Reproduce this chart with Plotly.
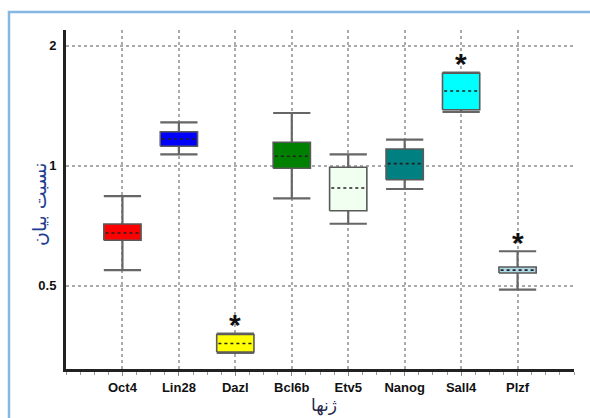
import math
import plotly.graph_objects as go

# ---------------- data ----------------
genes = ["Oct4", "Lin28", "Dazl", "Bcl6b", "Etv5", "Nanog", "Sall4", "Plzf"]
lower_whisker = [0.547, 1.068, 0.339, 0.828, 0.715, 0.874, 1.364, 0.489]
q1_values = [0.650, 1.119, 0.341, 0.985, 0.771, 0.922, 1.382, 0.538]
median_values = [0.678, 1.167, 0.358, 1.056, 0.879, 1.012, 1.539, 0.547]
q3_values = [0.714, 1.217, 0.377, 1.145, 0.991, 1.101, 1.706, 0.557]
upper_whisker = [0.839, 1.285, 0.379, 1.356, 1.068, 1.162, 1.712, 0.610]
significant = [False, False, True, False, False, False, True, True]
box_colors = ["#FF0000", "#0000FF", "#FFFF00", "#008000", "#F0FFF0", "#008080", "#00FFFF", "#ADD8E6"]
y_tick_vals = [0.5, 1, 2]
y_tick_text = ["0.5", "1", "2"]
y_title = "نسبت بیان"
x_title = "ژنها"

# ---------------- style ----------------
BOX_W = 0.66
OUTLINE = "#5a5a5a"
WHISKER = "#666666"

fig = go.Figure()

# whiskers and caps
wx, wy = [], []
for i in range(len(genes)):
    h = BOX_W / 2
    wx += [i, i, None, i, i, None, i - h, i + h, None, i - h, i + h, None]
    wy += [q3_values[i], upper_whisker[i], None, q1_values[i], lower_whisker[i], None,
           upper_whisker[i], upper_whisker[i], None, lower_whisker[i], lower_whisker[i], None]
fig.add_trace(go.Scatter(x=wx, y=wy, mode="lines", line=dict(color=WHISKER, width=2.2),
                         hoverinfo="skip", showlegend=False))

# boxes
for i, g in enumerate(genes):
    h = BOX_W / 2
    fig.add_trace(go.Scatter(
        x=[i - h, i + h, i + h, i - h, i - h],
        y=[q1_values[i], q1_values[i], q3_values[i], q3_values[i], q1_values[i]],
        mode="lines", fill="toself", fillcolor=box_colors[i],
        line=dict(color=OUTLINE, width=1.6), name=g, showlegend=False, hoverinfo="skip"))

# medians (dotted)
mx, my = [], []
for i in range(len(genes)):
    h = BOX_W / 2 - 0.03
    mx += [i - h, i + h, None]
    my += [median_values[i], median_values[i], None]
fig.add_trace(go.Scatter(x=mx, y=my, mode="lines", line=dict(color="#222222", width=1.6, dash="dot"),
                         hoverinfo="skip", showlegend=False))

# significance asterisks
annotations = []
for i in range(len(genes)):
    if significant[i]:
        annotations.append(dict(text="<b>*</b>", x=i, y=math.log10(upper_whisker[i]), xref="x", yref="y",
                                showarrow=False, xanchor="center", yanchor="middle", yshift=9,
                                font=dict(size=30, color="#111111", family="Liberation Sans")))

annotations += [
    dict(text=y_title, xref="paper", yref="paper", x=(39 - 66) / 508, y=(369 - 205) / 339,
         textangle=-90, showarrow=False, xanchor="center", yanchor="middle",
         font=dict(family="DejaVu Sans", size=19, color="#1F3C8F")),
    dict(text=x_title, xref="paper", yref="paper", x=(324 - 66) / 508, y=(369 - 405) / 339,
         showarrow=False, xanchor="center", yanchor="middle",
         font=dict(family="DejaVu Sans", size=17, color="#26264d")),
]

fig.update_layout(
    width=590, height=418,
    margin=dict(l=66, r=16, t=30, b=49),
    paper_bgcolor="white", plot_bgcolor="white",
    font=dict(family="Liberation Sans, Arial", color="#111111"),
    xaxis=dict(
        range=[-1, 8], tickmode="array", tickvals=list(range(len(genes))), ticktext=genes,
        showgrid=True, gridcolor="#aaaaaa", griddash="dot", gridwidth=1.5,
        zeroline=False, showline=True, linecolor="#222222", linewidth=3,
        ticks="outside", ticklen=4, tickcolor="#888888", tickwidth=1,
        tickfont=dict(size=13, weight="bold", color="#111111"),
        minor=dict(dtick=0.25, tick0=0, ticks="outside", ticklen=3, tickcolor="#999999", showgrid=False),
    ),
    yaxis=dict(
        type="log", range=[math.log10(0.309), math.log10(2.19)],
        tickmode="array", tickvals=y_tick_vals, ticktext=y_tick_text,
        showgrid=True, gridcolor="#aaaaaa", griddash="dot", gridwidth=1.5,
        zeroline=False, showline=True, linecolor="#222222", linewidth=3,
        ticks="", ticklabelstandoff=4,
        tickfont=dict(size=13, weight="bold", color="#111111"),
    ),
    shapes=[dict(type="rect", xref="paper", yref="paper",
                 x0=(9 - 66) / 508, x1=(620 - 66) / 508,
                 y0=(369 - 440) / 339, y1=(369 - 12) / 339,
                 line=dict(color="#85B9E3", width=2.5), fillcolor="rgba(0,0,0,0)", layer="below")],
    annotations=annotations,
)

fig.write_html("out.html")
